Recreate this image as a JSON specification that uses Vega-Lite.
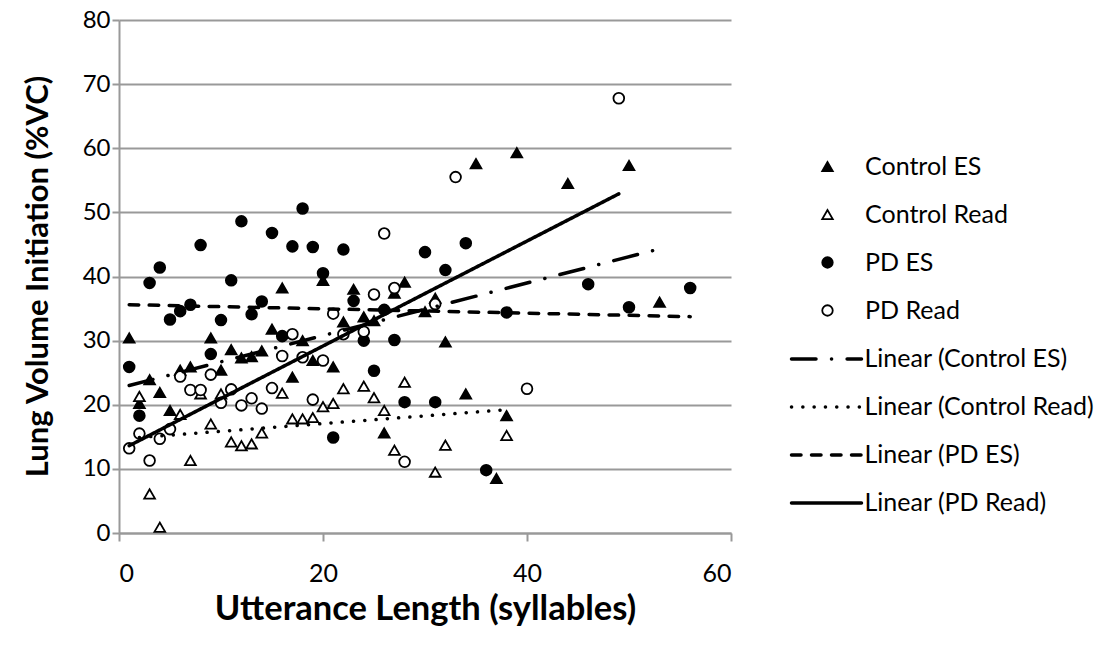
{
  "$schema": "https://vega.github.io/schema/vega-lite/v6.json",
  "autosize": {"type": "none"},
  "padding": {"left": 119, "top": 20, "right": 377, "bottom": 114},
  "width": 612,
  "height": 513,
  "background": "white",
  "config": {
    "view": {"stroke": null},
    "font": "Lato",
    "axis": {"labelFont": "Lato", "titleFont": "Lato", "labelColor": "black", "titleColor": "black"},
    "legend": {"labelFont": "Lato", "padding": 0}
  },
  "data": {
    "values": [
      {"series": "Control ES", "trend": "Linear (Control ES)", "syl": 1, "lvi": 30.4},
      {"series": "Control ES", "trend": "Linear (Control ES)", "syl": 2, "lvi": 20.2},
      {"series": "Control ES", "trend": "Linear (Control ES)", "syl": 3, "lvi": 23.9},
      {"series": "Control ES", "trend": "Linear (Control ES)", "syl": 4, "lvi": 21.9},
      {"series": "Control ES", "trend": "Linear (Control ES)", "syl": 5, "lvi": 19.1},
      {"series": "Control ES", "trend": "Linear (Control ES)", "syl": 6, "lvi": 25.4},
      {"series": "Control ES", "trend": "Linear (Control ES)", "syl": 7, "lvi": 25.9},
      {"series": "Control ES", "trend": "Linear (Control ES)", "syl": 9, "lvi": 30.4},
      {"series": "Control ES", "trend": "Linear (Control ES)", "syl": 10, "lvi": 25.4},
      {"series": "Control ES", "trend": "Linear (Control ES)", "syl": 11, "lvi": 28.6},
      {"series": "Control ES", "trend": "Linear (Control ES)", "syl": 12, "lvi": 27.3},
      {"series": "Control ES", "trend": "Linear (Control ES)", "syl": 13, "lvi": 27.5},
      {"series": "Control ES", "trend": "Linear (Control ES)", "syl": 14, "lvi": 28.4},
      {"series": "Control ES", "trend": "Linear (Control ES)", "syl": 15, "lvi": 31.8},
      {"series": "Control ES", "trend": "Linear (Control ES)", "syl": 16, "lvi": 38.2},
      {"series": "Control ES", "trend": "Linear (Control ES)", "syl": 17, "lvi": 24.3},
      {"series": "Control ES", "trend": "Linear (Control ES)", "syl": 18, "lvi": 30.0},
      {"series": "Control ES", "trend": "Linear (Control ES)", "syl": 19, "lvi": 26.9},
      {"series": "Control ES", "trend": "Linear (Control ES)", "syl": 20, "lvi": 39.4},
      {"series": "Control ES", "trend": "Linear (Control ES)", "syl": 21, "lvi": 25.9},
      {"series": "Control ES", "trend": "Linear (Control ES)", "syl": 22, "lvi": 32.9},
      {"series": "Control ES", "trend": "Linear (Control ES)", "syl": 23, "lvi": 38.0},
      {"series": "Control ES", "trend": "Linear (Control ES)", "syl": 24, "lvi": 33.7},
      {"series": "Control ES", "trend": "Linear (Control ES)", "syl": 25, "lvi": 33.1},
      {"series": "Control ES", "trend": "Linear (Control ES)", "syl": 26, "lvi": 15.6},
      {"series": "Control ES", "trend": "Linear (Control ES)", "syl": 27, "lvi": 37.4},
      {"series": "Control ES", "trend": "Linear (Control ES)", "syl": 28, "lvi": 39.1},
      {"series": "Control ES", "trend": "Linear (Control ES)", "syl": 30, "lvi": 34.5},
      {"series": "Control ES", "trend": "Linear (Control ES)", "syl": 31, "lvi": 36.6},
      {"series": "Control ES", "trend": "Linear (Control ES)", "syl": 32, "lvi": 29.8},
      {"series": "Control ES", "trend": "Linear (Control ES)", "syl": 34, "lvi": 21.7},
      {"series": "Control ES", "trend": "Linear (Control ES)", "syl": 35, "lvi": 57.6},
      {"series": "Control ES", "trend": "Linear (Control ES)", "syl": 37, "lvi": 8.5},
      {"series": "Control ES", "trend": "Linear (Control ES)", "syl": 38, "lvi": 18.3},
      {"series": "Control ES", "trend": "Linear (Control ES)", "syl": 39, "lvi": 59.3},
      {"series": "Control ES", "trend": "Linear (Control ES)", "syl": 44, "lvi": 54.5},
      {"series": "Control ES", "trend": "Linear (Control ES)", "syl": 50, "lvi": 57.3},
      {"series": "Control ES", "trend": "Linear (Control ES)", "syl": 53, "lvi": 36.0},
      {"series": "Control Read", "trend": "Linear (Control Read)", "syl": 2, "lvi": 21.3},
      {"series": "Control Read", "trend": "Linear (Control Read)", "syl": 3, "lvi": 6.1},
      {"series": "Control Read", "trend": "Linear (Control Read)", "syl": 4, "lvi": 0.9},
      {"series": "Control Read", "trend": "Linear (Control Read)", "syl": 6, "lvi": 18.5},
      {"series": "Control Read", "trend": "Linear (Control Read)", "syl": 7, "lvi": 11.3},
      {"series": "Control Read", "trend": "Linear (Control Read)", "syl": 8, "lvi": 21.7},
      {"series": "Control Read", "trend": "Linear (Control Read)", "syl": 9, "lvi": 17.0},
      {"series": "Control Read", "trend": "Linear (Control Read)", "syl": 10, "lvi": 21.7},
      {"series": "Control Read", "trend": "Linear (Control Read)", "syl": 11, "lvi": 14.2},
      {"series": "Control Read", "trend": "Linear (Control Read)", "syl": 12, "lvi": 13.6},
      {"series": "Control Read", "trend": "Linear (Control Read)", "syl": 13, "lvi": 13.9},
      {"series": "Control Read", "trend": "Linear (Control Read)", "syl": 14, "lvi": 15.6},
      {"series": "Control Read", "trend": "Linear (Control Read)", "syl": 16, "lvi": 21.8},
      {"series": "Control Read", "trend": "Linear (Control Read)", "syl": 17, "lvi": 17.8},
      {"series": "Control Read", "trend": "Linear (Control Read)", "syl": 18, "lvi": 17.8},
      {"series": "Control Read", "trend": "Linear (Control Read)", "syl": 19, "lvi": 18.0},
      {"series": "Control Read", "trend": "Linear (Control Read)", "syl": 20, "lvi": 19.7},
      {"series": "Control Read", "trend": "Linear (Control Read)", "syl": 21, "lvi": 20.2},
      {"series": "Control Read", "trend": "Linear (Control Read)", "syl": 22, "lvi": 22.5},
      {"series": "Control Read", "trend": "Linear (Control Read)", "syl": 24, "lvi": 22.9},
      {"series": "Control Read", "trend": "Linear (Control Read)", "syl": 25, "lvi": 21.1},
      {"series": "Control Read", "trend": "Linear (Control Read)", "syl": 26, "lvi": 19.1},
      {"series": "Control Read", "trend": "Linear (Control Read)", "syl": 27, "lvi": 12.9},
      {"series": "Control Read", "trend": "Linear (Control Read)", "syl": 28, "lvi": 23.5},
      {"series": "Control Read", "trend": "Linear (Control Read)", "syl": 31, "lvi": 9.5},
      {"series": "Control Read", "trend": "Linear (Control Read)", "syl": 32, "lvi": 13.7},
      {"series": "Control Read", "trend": "Linear (Control Read)", "syl": 38, "lvi": 15.2},
      {"series": "PD ES", "trend": "Linear (PD ES)", "syl": 1, "lvi": 25.9},
      {"series": "PD ES", "trend": "Linear (PD ES)", "syl": 2, "lvi": 18.3},
      {"series": "PD ES", "trend": "Linear (PD ES)", "syl": 3, "lvi": 39.0},
      {"series": "PD ES", "trend": "Linear (PD ES)", "syl": 4, "lvi": 41.4},
      {"series": "PD ES", "trend": "Linear (PD ES)", "syl": 5, "lvi": 33.3},
      {"series": "PD ES", "trend": "Linear (PD ES)", "syl": 6, "lvi": 34.6},
      {"series": "PD ES", "trend": "Linear (PD ES)", "syl": 7, "lvi": 35.6},
      {"series": "PD ES", "trend": "Linear (PD ES)", "syl": 8, "lvi": 44.9},
      {"series": "PD ES", "trend": "Linear (PD ES)", "syl": 9, "lvi": 27.9},
      {"series": "PD ES", "trend": "Linear (PD ES)", "syl": 10, "lvi": 33.2},
      {"series": "PD ES", "trend": "Linear (PD ES)", "syl": 11, "lvi": 39.4},
      {"series": "PD ES", "trend": "Linear (PD ES)", "syl": 12, "lvi": 48.6},
      {"series": "PD ES", "trend": "Linear (PD ES)", "syl": 13, "lvi": 34.1},
      {"series": "PD ES", "trend": "Linear (PD ES)", "syl": 14, "lvi": 36.1},
      {"series": "PD ES", "trend": "Linear (PD ES)", "syl": 15, "lvi": 46.8},
      {"series": "PD ES", "trend": "Linear (PD ES)", "syl": 16, "lvi": 30.7},
      {"series": "PD ES", "trend": "Linear (PD ES)", "syl": 17, "lvi": 44.7},
      {"series": "PD ES", "trend": "Linear (PD ES)", "syl": 18, "lvi": 50.6},
      {"series": "PD ES", "trend": "Linear (PD ES)", "syl": 19, "lvi": 44.6},
      {"series": "PD ES", "trend": "Linear (PD ES)", "syl": 20, "lvi": 40.5},
      {"series": "PD ES", "trend": "Linear (PD ES)", "syl": 21, "lvi": 14.9},
      {"series": "PD ES", "trend": "Linear (PD ES)", "syl": 22, "lvi": 44.2},
      {"series": "PD ES", "trend": "Linear (PD ES)", "syl": 23, "lvi": 36.2},
      {"series": "PD ES", "trend": "Linear (PD ES)", "syl": 24, "lvi": 30.0},
      {"series": "PD ES", "trend": "Linear (PD ES)", "syl": 25, "lvi": 25.3},
      {"series": "PD ES", "trend": "Linear (PD ES)", "syl": 26, "lvi": 34.8},
      {"series": "PD ES", "trend": "Linear (PD ES)", "syl": 27, "lvi": 30.1},
      {"series": "PD ES", "trend": "Linear (PD ES)", "syl": 28, "lvi": 20.4},
      {"series": "PD ES", "trend": "Linear (PD ES)", "syl": 30, "lvi": 43.8},
      {"series": "PD ES", "trend": "Linear (PD ES)", "syl": 31, "lvi": 20.4},
      {"series": "PD ES", "trend": "Linear (PD ES)", "syl": 32, "lvi": 41.0},
      {"series": "PD ES", "trend": "Linear (PD ES)", "syl": 34, "lvi": 45.2},
      {"series": "PD ES", "trend": "Linear (PD ES)", "syl": 36, "lvi": 9.8},
      {"series": "PD ES", "trend": "Linear (PD ES)", "syl": 38, "lvi": 34.4},
      {"series": "PD ES", "trend": "Linear (PD ES)", "syl": 46, "lvi": 38.8},
      {"series": "PD ES", "trend": "Linear (PD ES)", "syl": 50, "lvi": 35.2},
      {"series": "PD ES", "trend": "Linear (PD ES)", "syl": 56, "lvi": 38.2},
      {"series": "PD Read", "trend": "Linear (PD Read)", "syl": 1, "lvi": 13.2},
      {"series": "PD Read", "trend": "Linear (PD Read)", "syl": 2, "lvi": 15.5},
      {"series": "PD Read", "trend": "Linear (PD Read)", "syl": 3, "lvi": 11.3},
      {"series": "PD Read", "trend": "Linear (PD Read)", "syl": 4, "lvi": 14.7},
      {"series": "PD Read", "trend": "Linear (PD Read)", "syl": 5, "lvi": 16.2},
      {"series": "PD Read", "trend": "Linear (PD Read)", "syl": 6, "lvi": 24.4},
      {"series": "PD Read", "trend": "Linear (PD Read)", "syl": 7, "lvi": 22.3},
      {"series": "PD Read", "trend": "Linear (PD Read)", "syl": 8, "lvi": 22.3},
      {"series": "PD Read", "trend": "Linear (PD Read)", "syl": 9, "lvi": 24.7},
      {"series": "PD Read", "trend": "Linear (PD Read)", "syl": 10, "lvi": 20.3},
      {"series": "PD Read", "trend": "Linear (PD Read)", "syl": 11, "lvi": 22.4},
      {"series": "PD Read", "trend": "Linear (PD Read)", "syl": 12, "lvi": 19.9},
      {"series": "PD Read", "trend": "Linear (PD Read)", "syl": 13, "lvi": 21.0},
      {"series": "PD Read", "trend": "Linear (PD Read)", "syl": 14, "lvi": 19.4},
      {"series": "PD Read", "trend": "Linear (PD Read)", "syl": 15, "lvi": 22.6},
      {"series": "PD Read", "trend": "Linear (PD Read)", "syl": 16, "lvi": 27.6},
      {"series": "PD Read", "trend": "Linear (PD Read)", "syl": 17, "lvi": 31.0},
      {"series": "PD Read", "trend": "Linear (PD Read)", "syl": 18, "lvi": 27.4},
      {"series": "PD Read", "trend": "Linear (PD Read)", "syl": 19, "lvi": 20.8},
      {"series": "PD Read", "trend": "Linear (PD Read)", "syl": 20, "lvi": 26.9},
      {"series": "PD Read", "trend": "Linear (PD Read)", "syl": 21, "lvi": 34.2},
      {"series": "PD Read", "trend": "Linear (PD Read)", "syl": 22, "lvi": 31.0},
      {"series": "PD Read", "trend": "Linear (PD Read)", "syl": 24, "lvi": 31.4},
      {"series": "PD Read", "trend": "Linear (PD Read)", "syl": 25, "lvi": 37.2},
      {"series": "PD Read", "trend": "Linear (PD Read)", "syl": 26, "lvi": 46.7},
      {"series": "PD Read", "trend": "Linear (PD Read)", "syl": 27, "lvi": 38.2},
      {"series": "PD Read", "trend": "Linear (PD Read)", "syl": 28, "lvi": 11.1},
      {"series": "PD Read", "trend": "Linear (PD Read)", "syl": 31, "lvi": 35.7},
      {"series": "PD Read", "trend": "Linear (PD Read)", "syl": 33, "lvi": 55.5},
      {"series": "PD Read", "trend": "Linear (PD Read)", "syl": 40, "lvi": 22.5},
      {"series": "PD Read", "trend": "Linear (PD Read)", "syl": 49, "lvi": 67.8}
    ]
  },
  "encoding": {
    "x": {
      "field": "syl",
      "type": "quantitative",
      "scale": {"domain": [0, 60], "nice": false, "zero": false},
      "axis": {
        "title": "Utterance Length (syllables)",
        "values": [0, 20, 40, 60],
        "grid": false,
        "domainColor": "#999999",
        "domainWidth": 2,
        "tickColor": "#999999",
        "tickWidth": 2,
        "tickSize": 8,
        "labelFontSize": 25,
        "labelPadding": 20,
        "titleFontSize": 34.5,
        "titleFontWeight": "bold",
        "titleX": 306,
        "titleY": 76,
        "titleBaseline": "middle"
      }
    },
    "y": {
      "field": "lvi",
      "type": "quantitative",
      "scale": {"domain": [0, 80], "nice": false},
      "axis": {
        "title": "Lung Volume Initiation (%VC)",
        "values": [0, 10, 20, 30, 40, 50, 60, 70, 80],
        "grid": true,
        "gridColor": "#999999",
        "gridWidth": 2,
        "domainColor": "#999999",
        "domainWidth": 2,
        "tickColor": "#999999",
        "tickWidth": 2,
        "tickSize": 7,
        "labelFontSize": 24,
        "labelPadding": 2,
        "titleFontSize": 31,
        "titleFontWeight": "bold",
        "titleAngle": -90,
        "titleX": -81,
        "titleY": 256,
        "titleAlign": "center",
        "titleBaseline": "middle"
      }
    }
  },
  "layer": [
    {
      "mark": {"type": "point", "filled": false, "stroke": "black", "strokeWidth": 1.8, "opacity": 1, "fillOpacity": 1, "strokeOpacity": 1},
      "encoding": {
        "shape": {
          "field": "series",
          "type": "nominal",
          "scale": {"domain": ["Control ES", "Control Read", "PD ES", "PD Read"], "range": ["triangle-up", "triangle-up", "circle", "circle"]},
          "legend": {
            "title": null,
            "orient": "none",
            "legendX": 696,
            "legendY": 134,
            "symbolSize": 110,
            "symbolStrokeColor": "black",
            "symbolStrokeWidth": 1.8,
            "symbolOpacity": 1,
            "labelFontSize": 25,
            "labelOffset": 25,
            "labelLimit": 400,
            "rowPadding": 22,
            "encode": {"symbols": {"update": {"stroke": {"value": "black"}, "strokeWidth": {"value": 1.8}, "strokeOpacity": {"value": 1}}}}
          }
        },
        "fill": {
          "field": "series",
          "type": "nominal",
          "scale": {"domain": ["Control ES", "Control Read", "PD ES", "PD Read"], "range": ["black", "white", "black", "white"]},
          "legend": {
            "title": null,
            "orient": "none",
            "legendX": 696,
            "legendY": 134,
            "symbolSize": 110,
            "symbolStrokeColor": "black",
            "symbolStrokeWidth": 1.8,
            "symbolOpacity": 1,
            "labelFontSize": 25,
            "labelOffset": 25,
            "labelLimit": 400,
            "rowPadding": 22,
            "encode": {"symbols": {"update": {"stroke": {"value": "black"}, "strokeWidth": {"value": 1.8}, "strokeOpacity": {"value": 1}}}}
          }
        },
        "size": {"value": 115}
      }
    },
    {
      "transform": [{"regression": "lvi", "on": "syl", "groupby": ["trend"]}],
      "mark": {"type": "line", "color": "black", "strokeWidth": 3.5, "strokeCap": "round"},
      "encoding": {
        "strokeDash": {
          "field": "trend",
          "type": "nominal",
          "scale": {
            "domain": ["Linear (Control ES)", "Linear (Control Read)", "Linear (PD ES)", "Linear (PD Read)"],
            "range": [[24.5, 15.5, 0.1, 15.5], [0.1, 11.2], [9.5, 10.5], [1, 0]]
          },
          "legend": {
            "title": null,
            "orient": "none",
            "legendX": 695,
            "legendY": 326.5,
            "symbolType": "M-5,0H5",
            "symbolSize": 196,
            "symbolStrokeColor": "black",
            "symbolStrokeWidth": 3.5,
            "labelFontSize": 25,
            "labelOffset": 25.5,
            "labelLimit": 400,
            "rowPadding": 22,
            "encode": {"symbols": {"update": {"strokeCap": {"value": "round"}}}}
          }
        }
      }
    }
  ]
}
